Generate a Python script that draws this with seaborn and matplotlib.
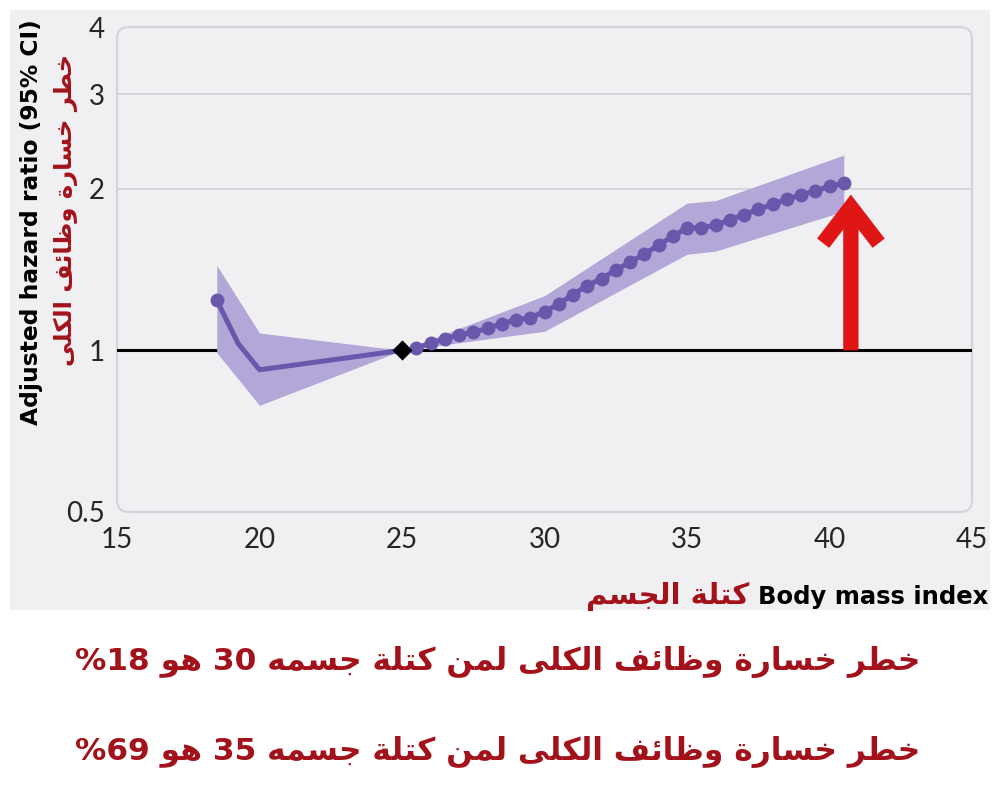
import matplotlib
matplotlib.use("Agg")
import matplotlib.pyplot as plt
import seaborn as sns
from matplotlib.patches import FancyBboxPatch, Rectangle

sns.set_style("white")
plt.rcParams['font.family'] = ['DejaVu Sans']

# ------------------------------
# Data
# ------------------------------
# BMI below 25: line with a single dot at 18.5
bmi_low = [18.5, 19.25, 20, 25]
hr_low = [1.24, 1.03, 0.92, 1.0]

# BMI above 25: dotted curve every 0.5 unit
bmi_high = [25.5, 26, 26.5, 27, 27.5, 28, 28.5, 29, 29.5, 30,
            30.5, 31, 31.5, 32, 32.5, 33, 33.5, 34, 34.5, 35,
            35.5, 36, 36.5, 37, 37.5, 38, 38.5, 39, 39.5, 40, 40.5]
hr_high = [1.01, 1.03, 1.05, 1.07, 1.08, 1.10, 1.12, 1.14, 1.15, 1.18,
           1.22, 1.27, 1.32, 1.36, 1.41, 1.46, 1.51, 1.57, 1.63, 1.69,
           1.69, 1.71, 1.75, 1.79, 1.83, 1.87, 1.91, 1.95, 1.98, 2.02, 2.05]

# 95% confidence band
ci_bmi = [18.5, 20, 25, 30, 35, 36, 40.5]
ci_lower = [0.99, 0.79, 1.0, 1.085, 1.51, 1.53, 1.815]
ci_upper = [1.44, 1.077, 1.0, 1.264, 1.88, 1.90, 2.31]

# reference category
ref_bmi = [25]
ref_hr = [1.0]

x_ticks = [15, 20, 25, 30, 35, 40, 45]
y_ticks = [0.5, 1, 2, 3, 4]
y_tick_labels = ["0.5", "1", "2", "3", "4"]

risk_bmi = [30, 35]
risk_pct = [18, 69]

arrow_bmi = 40.75
arrow_hr = [1.0, 1.95]

ylabel_en = "Adjusted hazard ratio (95% CI)"
ylabel_ar = "خطر خسارة وظائف الكلى"
xlabel_en = "Body mass index"
xlabel_ar = "كتلة الجسم"
sentence_ar = "خطر خسارة وظائف الكلى لمن كتلة جسمه {} هو %{}"

# colours
bg_grey = "#f0f0f2"
frame_grey = "#d4d4d9"
purple = "#6a57ab"
band_purple = "#b3a7d8"
arrow_red = "#e01616"
text_red = "#a3121a"

# ------------------------------
# Minimal Arabic shaping (matplotlib has no text shaping)
# ------------------------------
AR_FORMS = {
    'ا': (0xFE8D, 2), 'ب': (0xFE8F, 4), 'ة': (0xFE93, 2), 'ت': (0xFE95, 4),
    'ج': (0xFE9D, 4), 'خ': (0xFEA5, 4), 'د': (0xFEA9, 2), 'ر': (0xFEAD, 2),
    'س': (0xFEB1, 4), 'ط': (0xFEC1, 4), 'ظ': (0xFEC5, 4), 'ئ': (0xFE89, 4),
    'ف': (0xFED1, 4), 'ك': (0xFED9, 4), 'ل': (0xFEDD, 4), 'م': (0xFEE1, 4),
    'ن': (0xFEE5, 4), 'ه': (0xFEE9, 4), 'و': (0xFEED, 2), 'ى': (0xFEEF, 2),
    'ي': (0xFEF1, 4),
}


def shape_word(word):
    out = []
    for i, ch in enumerate(word):
        base, nforms = AR_FORMS[ch]
        prev_joins = i > 0 and AR_FORMS[word[i - 1]][1] == 4
        if nforms == 4 and i < len(word) - 1:
            form = 3 if prev_joins else 2
        else:
            form = 1 if prev_joins else 0
        out.append(chr(base + form))
    return "".join(reversed(out))


def arabic(text):
    words = [shape_word(w) if w[0] in AR_FORMS else w for w in text.split(" ")]
    return " ".join(reversed(words))


# ------------------------------
# Figure
# ------------------------------
fig = plt.figure(figsize=(10, 8), dpi=100)
fig.patch.set_facecolor("white")
fig.patches.append(Rectangle((0.01, 0.2375), 0.98, 0.75, transform=fig.transFigure,
                             facecolor=bg_grey, edgecolor="none", zorder=-10))

ax = fig.add_axes([0.117, 0.36, 0.855, 0.60625])
ax.set_facecolor("none")
ax.set_yscale("log")
ax.set_xlim(15, 45)
ax.set_ylim(0.5, 4)

for s in ax.spines.values():
    s.set_visible(False)

frame = FancyBboxPatch((0, 0), 1, 1, boxstyle="round,pad=0,rounding_size=0.014",
                       mutation_aspect=855 / 485, transform=ax.transAxes,
                       facecolor="none", edgecolor=frame_grey, lw=1.6,
                       clip_on=False, zorder=0)
ax.add_patch(frame)

for g in [2, 3]:
    ax.axhline(g, color=frame_grey, lw=1.4, zorder=0.5)
ax.axhline(1, color="black", lw=2.2, zorder=1)

ax.fill_between(ci_bmi, ci_lower, ci_upper, color=band_purple, lw=0, zorder=2)

sns.lineplot(x=bmi_low, y=hr_low, color=purple, lw=3.6, marker="o", markevery=[0],
             markersize=10, markeredgewidth=0, ax=ax, zorder=3)
sns.lineplot(x=bmi_high, y=hr_high, color=purple, lw=3.6, marker="o",
             markersize=10, markeredgewidth=0, ax=ax, zorder=3)
sns.scatterplot(x=ref_bmi, y=ref_hr, marker="D", s=105, color="black",
                linewidth=0, ax=ax, zorder=4)

ax.annotate("", xy=(arrow_bmi, arrow_hr[1]), xytext=(arrow_bmi, arrow_hr[0]),
            arrowprops=dict(arrowstyle="->,head_length=1.3,head_width=1.0",
                            mutation_scale=20, lw=11, color=arrow_red,
                            shrinkA=0, shrinkB=0, capstyle="butt",
                            joinstyle="miter"),
            zorder=5)

# ticks
tick_font = ['Lato']
ax.set_xticks(x_ticks)
ax.set_xticklabels([str(t) for t in x_ticks], family=tick_font, fontsize=20)
ax.set_yticks(y_ticks)
ax.set_yticklabels(y_tick_labels, family=tick_font, fontsize=20)
ax.yaxis.set_minor_locator(matplotlib.ticker.NullLocator())
ax.tick_params(axis="x", direction="in", length=9, width=1.3, color=frame_grey, pad=11)
ax.tick_params(axis="y", direction="out", length=3, width=2.2, color="black", pad=6)
for t in ax.xaxis.get_major_ticks():
    if t.get_loc() in (15, 45):
        t.tick1line.set_visible(False)
for t in ax.yaxis.get_major_ticks():
    if t.get_loc() != 1:
        t.tick1line.set_visible(False)
ax.set_xlabel("")
ax.set_ylabel("")

# y label (two lines, two colours)
fig.text(0.032, 0.7225, ylabel_en, rotation=90, ha="center", va="center",
         fontsize=16.8, fontweight="bold", color="black")
fig.text(0.066, 0.7375, arabic(ylabel_ar), rotation=90, ha="center", va="center",
         fontsize=17.5, fontweight="bold", color=text_red)

# x label
t_en = fig.text(0.988, 0.245, xlabel_en, ha="right", va="baseline",
                fontsize=17.5, fontweight="bold", color="black")
fig.canvas.draw()
bb = t_en.get_window_extent(renderer=fig.canvas.get_renderer())
fig.text(bb.x0 / fig.bbox.width - 0.009, 0.245, arabic(xlabel_ar), ha="right",
         va="baseline", fontsize=21, fontweight="bold", color=text_red)

# bottom sentences
for yy, b, p in zip([0.1725, 0.06], risk_bmi, risk_pct):
    fig.text(0.498, yy, arabic(sentence_ar.format(b, p)), ha="center", va="center",
             fontsize=22.5, fontweight="bold", color=text_red)

fig.savefig("out.png", dpi=100)
